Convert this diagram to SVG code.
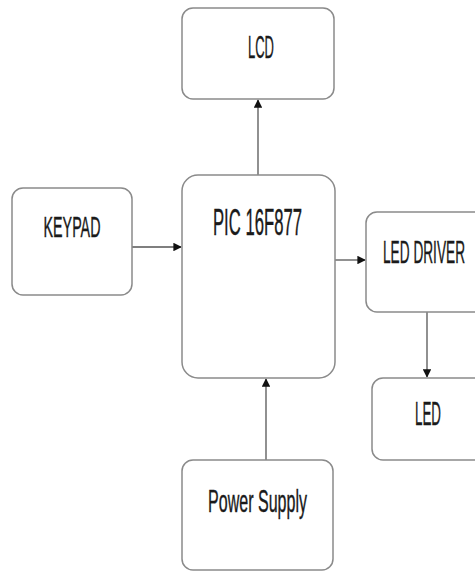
<svg xmlns="http://www.w3.org/2000/svg" width="475" height="571" viewBox="0 0 475 571">
<style>
.box{fill:#fff;stroke:#8a8a8a;stroke-width:1.5}
.lbl{font-family:"Liberation Sans",Arial,sans-serif;fill:#1a1a1a;stroke:#1a1a1a;stroke-width:0.4;text-anchor:middle}
.con{stroke:#555;stroke-width:1.3;fill:none}
</style>
<defs>
<marker id="ah" viewBox="0 0 10 10" refX="9" refY="5" markerWidth="8.5" markerHeight="8.5" markerUnits="userSpaceOnUse" orient="auto">
<path d="M0,0 L10,5 L0,10 z" fill="#111"/>
</marker>
</defs>
<rect width="475" height="571" fill="#fff"/>
<g id="connectors">
<line class="con" x1="258" y1="175" x2="258" y2="100" marker-end="url(#ah)"/>
<line class="con" x1="132" y1="247" x2="181" y2="247" stroke-width="2.2" marker-end="url(#ah)"/>
<line class="con" x1="335" y1="260" x2="365" y2="260" stroke-width="2" marker-end="url(#ah)"/>
<line class="con" x1="427" y1="312" x2="427" y2="377" marker-end="url(#ah)"/>
<line class="con" x1="266" y1="460" x2="266" y2="379" marker-end="url(#ah)"/>
</g>
<g id="lcd">
<rect class="box" x="182" y="8" width="152" height="91" rx="11"/>
<text class="lbl" x="261" y="58" font-size="32" textLength="26" lengthAdjust="spacingAndGlyphs">LCD</text>
</g>
<g id="keypad">
<rect class="box" x="12" y="188" width="120" height="107" rx="11"/>
<text class="lbl" x="72" y="237" font-size="30" textLength="57" lengthAdjust="spacingAndGlyphs">KEYPAD</text>
</g>
<g id="pic">
<rect class="box" x="182" y="175" width="153" height="203" rx="16"/>
<text class="lbl" x="257.5" y="235" font-size="36" textLength="89" lengthAdjust="spacingAndGlyphs">PIC 16F877</text>
</g>
<g id="leddriver">
<rect class="box" x="366" y="212" width="130" height="100" rx="11"/>
<text class="lbl" x="424" y="263" font-size="31" textLength="82" lengthAdjust="spacingAndGlyphs">LED DRIVER</text>
</g>
<g id="led">
<rect class="box" x="372" y="378" width="124" height="82" rx="11"/>
<text class="lbl" x="428" y="425" font-size="33" textLength="26" lengthAdjust="spacingAndGlyphs">LED</text>
</g>
<g id="power">
<rect class="box" x="182" y="460" width="151" height="110" rx="11"/>
<text class="lbl" x="257.5" y="512" font-size="32" textLength="99" lengthAdjust="spacingAndGlyphs">Power Supply</text>
</g>
</svg>
